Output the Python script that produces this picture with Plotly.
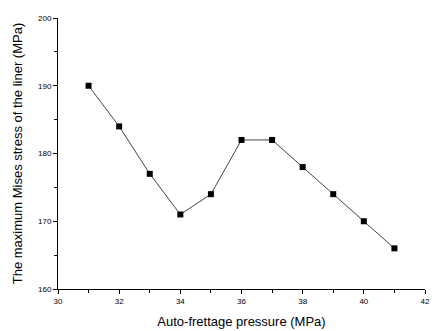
import plotly.graph_objects as go

pressure = [31, 32, 33, 34, 35, 36, 37, 38, 39, 40, 41]
stress = [190, 184, 177, 171, 174, 182, 182, 178, 174, 170, 166]
x_ticks = [30, 32, 34, 36, 38, 40, 42]
y_ticks = [160, 170, 180, 190, 200]

fig = go.Figure()
fig.add_trace(go.Scatter(
    x=pressure, y=stress, mode="lines+markers",
    line=dict(color="#444444", width=1),
    marker=dict(symbol="square", size=6, color="black"),
    showlegend=False,
))

axis_common = dict(
    showgrid=False, zeroline=False, showline=True, linecolor="black", linewidth=1,
    ticks="outside", ticklen=4, tickcolor="black", tickwidth=1,
    tickfont=dict(family="Liberation Sans, Arial", size=8, color="black"),
    ticklabeloverflow="allow",
)
fig.update_xaxes(
    range=[30, 42], tickvals=x_ticks,
    minor=dict(dtick=1, ticks="outside", ticklen=3, tickcolor="black"),
    title=dict(text="Auto-frettage pressure (MPa)", font=dict(family="Liberation Sans, Arial", size=13, color="black"), standoff=12),
    **axis_common,
)
fig.update_yaxes(
    range=[160, 200], tickvals=y_ticks,
    minor=dict(dtick=5, ticks="outside", ticklen=3, tickcolor="black"),
    title=dict(text="The maximum Mises stress of the liner (MPa)", font=dict(family="Liberation Sans, Arial", size=13, color="black"), standoff=12),
    **axis_common,
)
fig.update_layout(
    width=434, height=331,
    margin=dict(l=58, r=4, t=18, b=42),
    plot_bgcolor="white", paper_bgcolor="white",
)
fig.write_html("out.html")
